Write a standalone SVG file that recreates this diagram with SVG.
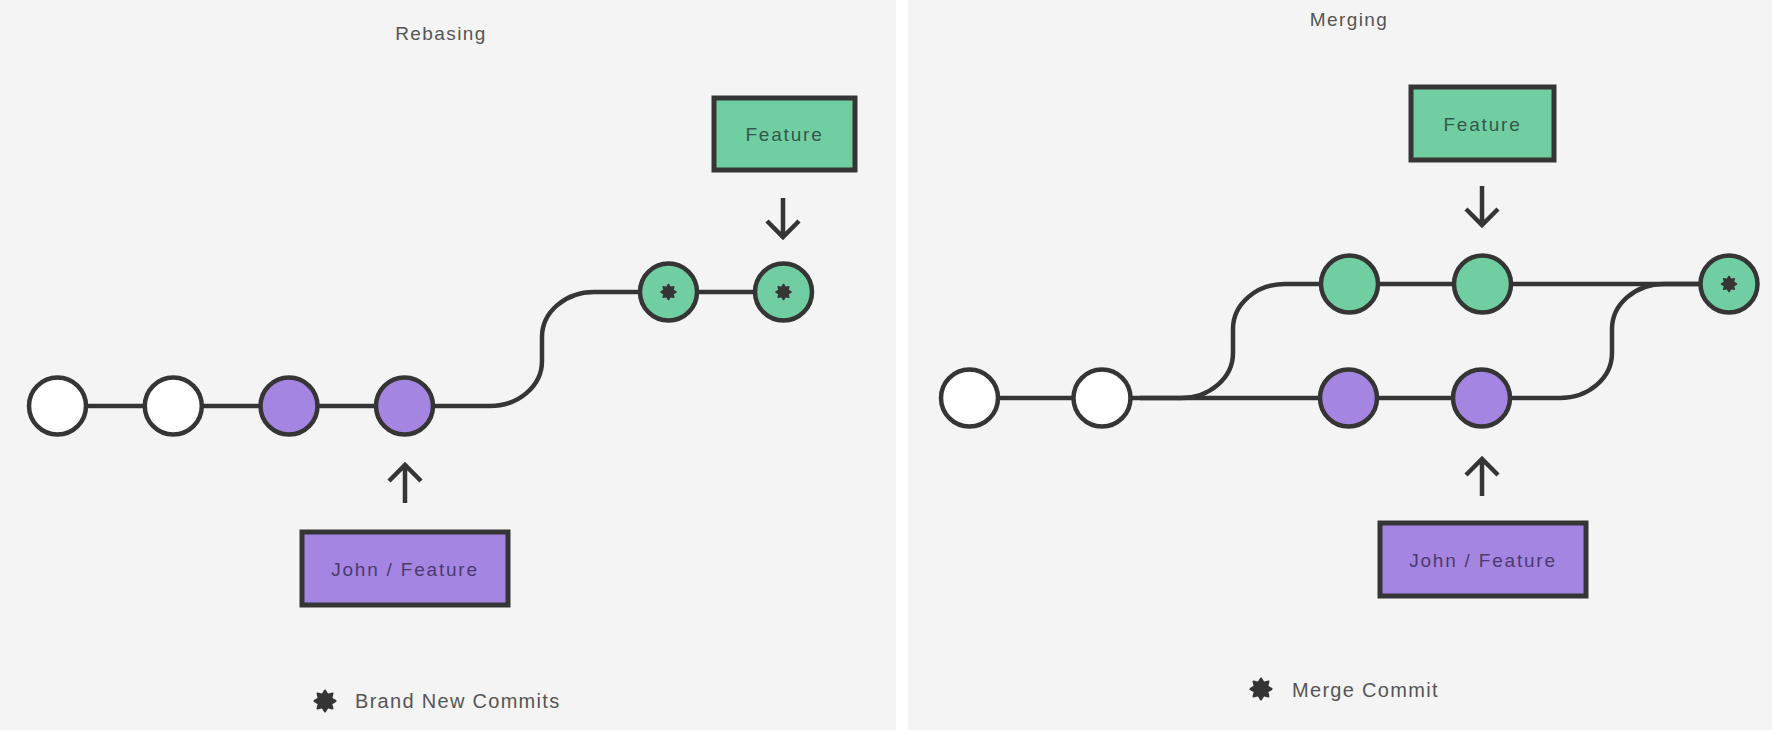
<svg xmlns="http://www.w3.org/2000/svg" xmlns:xlink="http://www.w3.org/1999/xlink" width="1772" height="730" viewBox="0 0 1772 730">
  <style>
    .bg { fill: #f4f4f4; }
    .edge { fill: none; stroke: #353535; stroke-width: 4.5; }
    .arrow { fill: none; stroke: #353535; stroke-width: 4.5; stroke-linecap: butt; stroke-linejoin: miter; }
    .commit { stroke: #353535; stroke-width: 4.5; }
    .plain { fill: #ffffff; }
    .green { fill: #71cda2; }
    .purple { fill: #a585e2; }
    .box { stroke: #353535; stroke-width: 5; }
    .title { font-family: "Liberation Sans", Arial, sans-serif; font-size: 19px; letter-spacing: 1.4px; fill: #555555; text-anchor: middle; }
    .legend { font-family: "Liberation Sans", Arial, sans-serif; font-size: 20px; letter-spacing: 1.3px; fill: #555555; }
    .label { font-family: "Liberation Sans", Arial, sans-serif; font-size: 19px; letter-spacing: 1.8px; text-anchor: middle; }
    .label-green { fill: #34584a; }
    .label-purple { fill: #4a3b70; }
    .star { fill: #353535; stroke: #353535; stroke-width: 2; stroke-linejoin: round; }
  </style>
  <defs>
    <!-- eight-lobed asterisk mark, unit radius 10 -->
    <path id="star" class="star" d="M0,-10 L2.49,-6.01 L7.07,-7.07 L6.01,-2.49 L10,0 L6.01,2.49 L7.07,7.07 L2.49,6.01 L0,10 L-2.49,6.01 L-7.07,7.07 L-6.01,2.49 L-10,0 L-6.01,-2.49 L-7.07,-7.07 L-2.49,-6.01 Z"/>
  </defs>

  <!-- panel backgrounds with a white gutter between them -->
  <rect x="0" y="0" width="1772" height="730" fill="#ffffff"/>
  <rect class="bg" x="0" y="0" width="896" height="730"/>
  <rect class="bg" x="908" y="0" width="864" height="730"/>

  <!-- ===== Rebasing panel ===== -->
  <text class="title" x="441" y="40">Rebasing</text>

  <g id="rebase-connectors">
    <line class="edge" x1="57.5" y1="406" x2="404.5" y2="406"/>
    <path class="edge" d="M404.5,406 H490 C518.6,406 542,386 542,361 V337 C542,312 565.4,292 594,292 H783"/>
    <!-- branch pointers -->
    <path class="arrow" d="M783,198 V236 M767,221 L783,237 L799,221"/>
    <path class="arrow" d="M405,503 V466 M389,481 L405,465 L421,481"/>
  </g>

  <g id="rebase-c1"><circle class="commit plain" cx="57.5" cy="406" r="28.5"/></g>
  <g id="rebase-c2"><circle class="commit plain" cx="173.3" cy="406" r="28.5"/></g>
  <g id="rebase-c3"><circle class="commit purple" cx="289" cy="406" r="28.5"/></g>
  <g id="rebase-c4"><circle class="commit purple" cx="404.5" cy="406" r="28.5"/></g>
  <g id="rebase-c5">
    <circle class="commit green" cx="668.5" cy="292" r="28.5"/>
    <use xlink:href="#star" href="#star" transform="translate(668.5,292) scale(0.75)"/>
  </g>
  <g id="rebase-c6">
    <circle class="commit green" cx="783.5" cy="292" r="28.5"/>
    <use xlink:href="#star" href="#star" transform="translate(783.5,292) scale(0.75)"/>
  </g>

  <g id="rebase-feature">
    <rect class="box green" x="714" y="98" width="141" height="72"/>
    <text class="label label-green" x="784.5" y="141">Feature</text>
  </g>
  <g id="rebase-john">
    <rect class="box purple" x="302" y="532" width="206" height="73"/>
    <text class="label label-purple" x="405" y="575.5">John / Feature</text>
  </g>

  <g id="rebase-legend">
    <use xlink:href="#star" href="#star" transform="translate(325,701) scale(1.05)"/>
    <text class="legend" x="355" y="708">Brand New Commits</text>
  </g>

  <!-- ===== Merging panel ===== -->
  <text class="title" x="1349" y="26">Merging</text>

  <g id="merge-connectors">
    <line class="edge" x1="969" y1="398" x2="1481.5" y2="398"/>
    <path class="edge" d="M1140,398 H1181 C1209.6,398 1233,378 1233,353 V329 C1233,304 1256.4,284 1285,284 H1729"/>
    <path class="edge" d="M1481.5,398 H1560 C1588.6,398 1612,378 1612,353 V329 C1612,304 1635.4,284 1664,284 H1700"/>
    <!-- branch pointers -->
    <path class="arrow" d="M1482,186 V224 M1466,209 L1482,225 L1498,209"/>
    <path class="arrow" d="M1482,496 V460 M1466,475 L1482,459 L1498,475"/>
  </g>

  <g id="merge-c1"><circle class="commit plain" cx="969.5" cy="398" r="28.5"/></g>
  <g id="merge-c2"><circle class="commit plain" cx="1102" cy="398" r="28.5"/></g>
  <g id="merge-c3"><circle class="commit green" cx="1349.5" cy="284" r="28.5"/></g>
  <g id="merge-c4"><circle class="commit green" cx="1482.5" cy="284" r="28.5"/></g>
  <g id="merge-c5"><circle class="commit purple" cx="1348.5" cy="398" r="28.5"/></g>
  <g id="merge-c6"><circle class="commit purple" cx="1481.5" cy="398" r="28.5"/></g>
  <g id="merge-c7">
    <circle class="commit green" cx="1729" cy="284" r="28.5"/>
    <use xlink:href="#star" href="#star" transform="translate(1729,284) scale(0.75)"/>
  </g>

  <g id="merge-feature">
    <rect class="box green" x="1411" y="87" width="143" height="73"/>
    <text class="label label-green" x="1482.5" y="130.5">Feature</text>
  </g>
  <g id="merge-john">
    <rect class="box purple" x="1380" y="523" width="206" height="73"/>
    <text class="label label-purple" x="1483" y="566.5">John / Feature</text>
  </g>

  <g id="merge-legend">
    <use xlink:href="#star" href="#star" transform="translate(1261,689) scale(1.05)"/>
    <text class="legend" x="1292" y="697">Merge Commit</text>
  </g>
</svg>
